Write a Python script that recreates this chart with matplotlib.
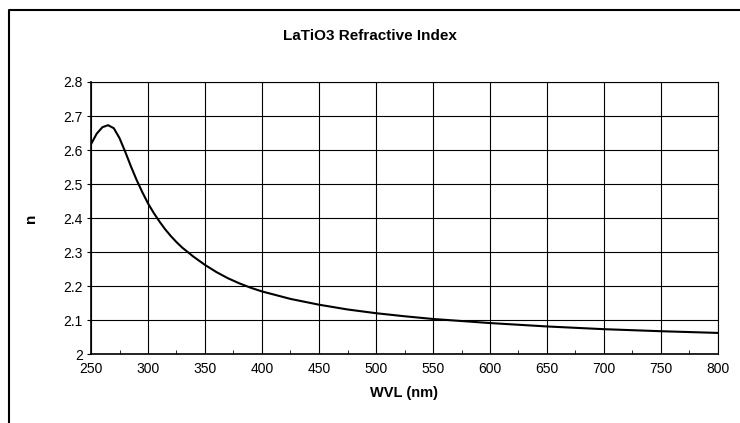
import numpy as np
import matplotlib.pyplot as plt
from matplotlib.lines import Line2D

# dados
wvl = [250, 255, 260, 265, 270, 275, 280, 285, 290, 295, 300, 305, 310, 315,
       320, 325, 330, 340, 350, 360, 370, 380, 390, 400, 425, 450, 475, 500,
       525, 550, 600, 650, 700, 750, 800]
n_idx = [2.617, 2.648, 2.667, 2.673, 2.664, 2.635, 2.595, 2.552, 2.512, 2.476,
         2.443, 2.415, 2.390, 2.367, 2.347, 2.329, 2.313, 2.286, 2.262, 2.241,
         2.223, 2.208, 2.195, 2.184, 2.162, 2.145, 2.131, 2.120, 2.111, 2.103,
         2.091, 2.081, 2.073, 2.067, 2.062]

plt.rcParams['font.family'] = ['Liberation Sans', 'DejaVu Sans']

fig = plt.figure(figsize=(7.4, 4.23), dpi=100)
ax = fig.add_axes([91/740, 1-354/423, (718-91)/740, (354-82)/423])

ax.plot(wvl, n_idx, color='black', lw=1.5)

ax.set_xlim(250, 800)
ax.set_ylim(2, 2.8)
ax.set_xticks(np.arange(250, 801, 50))
ax.set_xticks(np.arange(275, 800, 50), minor=True)
ax.set_yticks(np.arange(2, 2.81, 0.1))
ax.set_yticklabels(['2', '2.1', '2.2', '2.3', '2.4', '2.5', '2.6', '2.7', '2.8'])
ax.grid(True, which='major', color='black', lw=0.8)
ax.tick_params(axis='x', which='major', length=0, labelsize=10, pad=6)
ax.tick_params(axis='x', which='minor', direction='in', length=3)
ax.tick_params(axis='y', length=3, labelsize=10, pad=3)
for s in ax.spines.values():
    s.set_color('black')
    s.set_linewidth(0.8)
ax.spines['left'].set_linewidth(1.2)
ax.spines['bottom'].set_linewidth(1.2)

ax.set_xlabel('WVL (nm)', fontsize=10.5, fontweight='bold', labelpad=7)
ax.set_ylabel('n', fontsize=11, fontweight='bold', rotation=90, labelpad=18)
fig.text(0.5, 1-36/423, 'LaTiO3 Refractive Index', ha='center', va='center',
         fontsize=11, fontweight='bold')

# moldura do grafico (cortada a direita e embaixo)
fig.add_artist(Line2D([9/740, 9/740, 1], [0, 1-10/423, 1-10/423],
                      color='black', lw=1.5, transform=fig.transFigure))

fig.savefig('out.png', dpi=100)
